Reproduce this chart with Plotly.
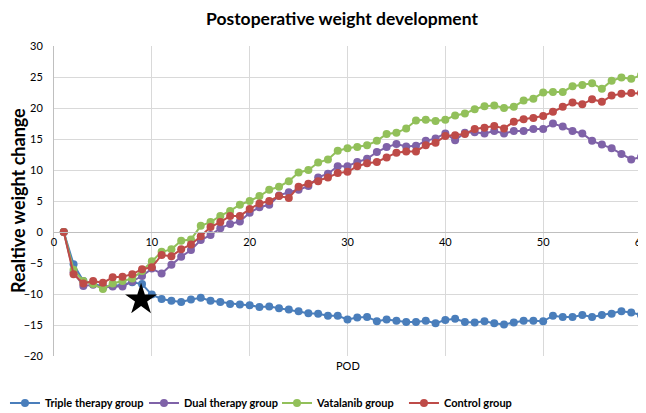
import plotly.graph_objects as go

pod = list(range(1, 61))

triple = [0, -5.2, -7.9, -8.4, -8.8, -8.7, -8.5, -8.1, -8.4, -10.1,
          -10.8, -11.1, -11.3, -10.9, -10.6, -11.1, -11.3, -11.6, -11.7, -11.8,
          -12.1, -12.0, -12.3, -12.5, -12.8, -13.1, -13.2, -13.5, -13.5, -14.1,
          -13.8, -13.7, -14.4, -14.1, -14.3, -14.5, -14.5, -14.3, -14.7, -14.2,
          -14.0, -14.5, -14.6, -14.4, -14.7, -14.9, -14.6, -14.3, -14.3, -14.4,
          -13.5, -13.7, -13.7, -13.4, -13.7, -13.4, -13.2, -12.8, -13.0, -13.4]

dual = [0, -6.5, -8.7, -8.5, -9.0, -8.8, -8.8, -8.0, -7.1, -5.9,
        -6.7, -5.3, -4.0, -2.9, -1.3, -0.5, 0.6, 1.3, 1.7, 3.1,
        4.0, 4.4, 5.9, 6.4, 6.8, 7.4, 8.8, 9.4, 10.6, 10.6,
        11.3, 11.8, 12.9, 13.7, 14.2, 13.8, 13.9, 14.7, 15.1, 15.9,
        14.8, 16.0, 16.1, 15.9, 16.3, 15.9, 16.3, 16.3, 16.6, 16.6,
        17.5, 17.0, 16.3, 15.9, 14.7, 14.1, 13.5, 12.6, 11.7, 12.1]

vatalanib = [0, -6.1, -7.9, -8.4, -9.2, -8.3, -7.9, -7.5, -6.3, -4.7,
             -3.2, -2.8, -1.4, -1.2, 1.0, 1.6, 2.6, 3.4, 4.4, 5.0,
             5.8, 6.8, 7.3, 8.2, 9.6, 10.0, 11.2, 11.7, 13.1, 13.5,
             13.7, 14.0, 14.7, 15.8, 16.0, 16.7, 18.0, 18.1, 17.9, 18.1,
             18.8, 19.1, 19.8, 20.3, 20.4, 20.0, 20.2, 21.2, 21.5, 22.5,
             22.6, 22.6, 23.5, 23.7, 24.0, 23.1, 24.4, 24.9, 24.7, 25.3]

control = [0, -6.8, -8.3, -7.9, -8.2, -7.3, -7.2, -6.8, -6.0, -5.7,
           -3.7, -3.9, -2.8, -2.0, -0.7, 0.8, 1.6, 2.6, 2.6, 3.7,
           4.6, 5.0, 5.8, 5.5, 7.3, 7.8, 8.2, 8.8, 9.5, 9.7,
           10.6, 11.1, 11.3, 12.0, 12.8, 13.0, 13.0, 14.0, 14.4, 15.5,
           15.6, 15.8, 16.6, 16.8, 17.1, 16.7, 17.8, 18.2, 18.4, 18.7,
           19.4, 20.2, 20.9, 20.6, 21.4, 21.0, 22.0, 22.3, 22.4, 22.4]

series_names = ["Triple therapy group", "Dual therapy group", "Vatalanib group", "Control group"]
series_colors = ["#4A7EBB", "#7F62A8", "#92C05A", "#BE4B48"]
legend_ids = ["legend", "legend2", "legend3", "legend4"]
legend_x = [-0.0835, 0.1533, 0.3799, 0.5962]

star_x = [8.9]
star_y = [-10.9]

FONT = "Lato"

fig = go.Figure()
for name, vals, col, lid in zip(series_names, [triple, dual, vatalanib, control], series_colors, legend_ids):
    fig.add_trace(go.Scatter(
        x=pod, y=vals, name=name, mode="lines+markers",
        line=dict(color=col, width=2),
        marker=dict(color=col, size=8, symbol="circle"),
        cliponaxis=False, legend=lid,
    ))

fig.add_trace(go.Scatter(
    x=star_x, y=star_y, mode="markers", showlegend=False,
    marker=dict(symbol="star", size=24, color="black"),
))

legend_common = dict(orientation="h", xanchor="left", y=-0.152, yanchor="middle",
                     font=dict(family=FONT, size=11, weight="bold", color="#000000"),
                     itemwidth=30, bgcolor="rgba(0,0,0,0)")
legend_layout = {lid: dict(x=lx, **legend_common) for lid, lx in zip(legend_ids, legend_x)}

fig.update_layout(
    width=638, height=405,
    margin=dict(l=46, r=5, t=38, b=57, autoexpand=False),
    paper_bgcolor="white", plot_bgcolor="white",
    font=dict(family=FONT, size=11, color="#000000"),
    title=dict(text="Postoperative weight development", x=0.5235, xref="container",
               xanchor="center", y=0.972, yanchor="middle",
               font=dict(family=FONT, size=17.5, weight="bold", color="#000000")),
    showlegend=True,
    xaxis=dict(range=[0, 60], dtick=10, tick0=0, showgrid=True, gridcolor="#D9D9D9",
               gridwidth=1, zeroline=False, showline=True, linecolor="#BFBFBF",
               linewidth=1, anchor="free", position=0.4, ticks="",
               automargin=False, ticklabeloverflow="allow",
               tickfont=dict(family=FONT, size=11, color="#000000")),
    yaxis=dict(range=[-20, 30], dtick=5, tick0=0, showgrid=True, gridcolor="#D9D9D9",
               gridwidth=1, zeroline=False, showline=True, linecolor="#BFBFBF",
               linewidth=1, ticks="", ticklabelstandoff=8, automargin=False,
               tickfont=dict(family=FONT, size=11, color="#000000")),
    annotations=[
        dict(text="Realtive weight change", xref="paper", yref="paper",
             x=-0.0613, y=0.5, textangle=-90, showarrow=False,
             xanchor="center", yanchor="middle",
             font=dict(family=FONT, size=18, weight="bold", color="#000000")),
        dict(text="POD", xref="paper", yref="paper", x=0.5, y=-0.032,
             showarrow=False, xanchor="center", yanchor="middle",
             font=dict(family=FONT, size=11, color="#000000")),
    ],
    **legend_layout,
)

fig.write_html("out.html")
